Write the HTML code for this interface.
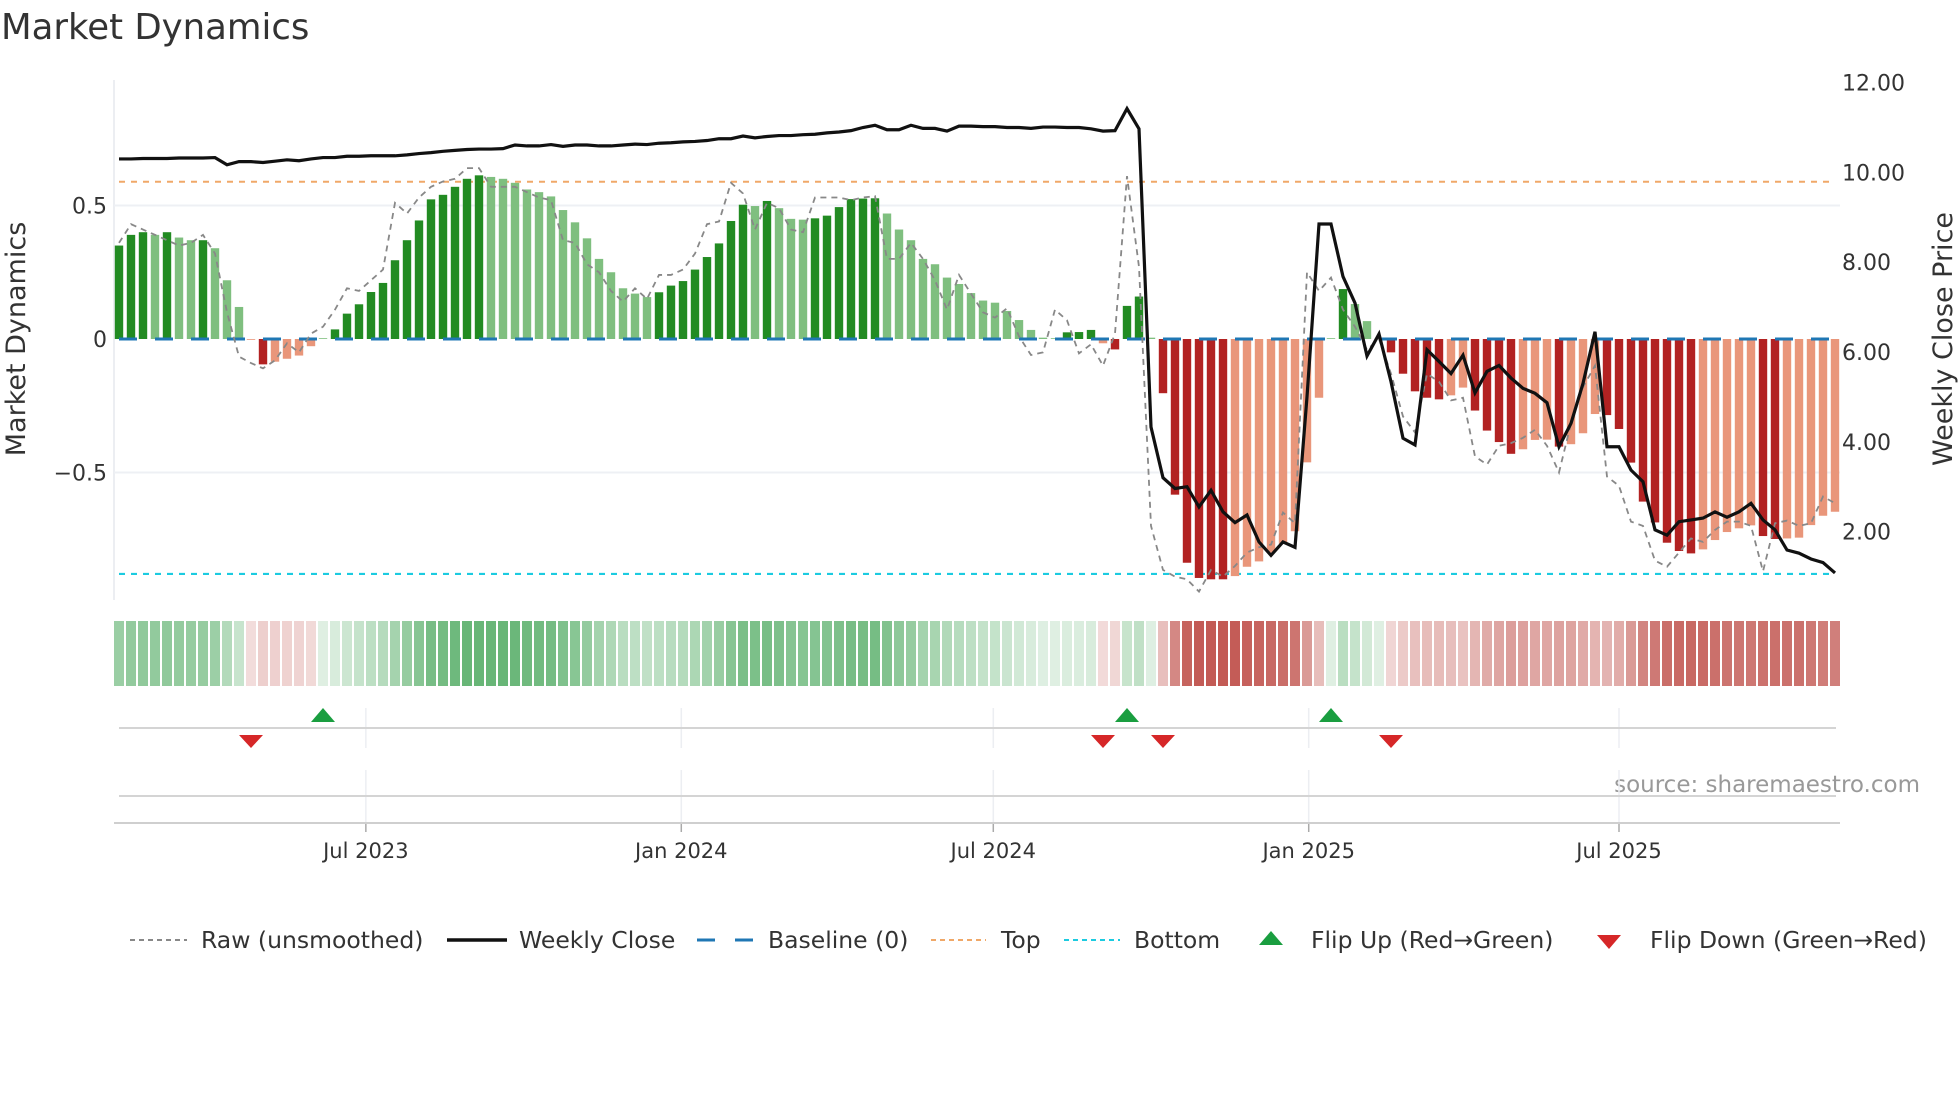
<!DOCTYPE html>
<html><head><meta charset="utf-8"><title>Market Dynamics</title>
<style>
html,body{margin:0;padding:0;background:#fff;}
svg{display:block;font-family:"DejaVu Sans","Liberation Sans",sans-serif;}
</style></head>
<body>
<svg id="chart" width="1960" height="1102" viewBox="0 0 1960 1102" xmlns="http://www.w3.org/2000/svg">
<text x="1" y="39" font-size="35.5" fill="#333">Market Dynamics</text>
<g id="main"></g>
<text transform="translate(25,339) rotate(-90)" text-anchor="middle" font-size="27" fill="#333">Market Dynamics</text>
<text transform="translate(1952,339) rotate(-90)" text-anchor="middle" font-size="27" fill="#333">Weekly Close Price</text>
<text x="1920" y="792" text-anchor="end" font-size="23" fill="#999">source: sharemaestro.com</text>
<g id="legend"></g>
</svg>
<script>
const momentum = [0.35,0.39,0.40,0.39,0.40,0.38,0.37,0.37,0.34,0.22,0.12,-0.003,-0.095,-0.085,-0.074,-0.062,-0.027,0.003,0.036,0.095,0.13,0.176,0.21,0.295,0.37,0.444,0.523,0.54,0.57,0.60,0.613,0.607,0.60,0.585,0.56,0.55,0.534,0.483,0.437,0.377,0.30,0.25,0.19,0.17,0.157,0.175,0.20,0.217,0.26,0.307,0.358,0.442,0.503,0.498,0.517,0.49,0.45,0.447,0.452,0.462,0.494,0.524,0.526,0.527,0.47,0.41,0.37,0.30,0.28,0.23,0.206,0.172,0.144,0.136,0.105,0.071,0.034,0.005,0.003,0.025,0.026,0.034,-0.016,-0.039,0.124,0.159,0.005,-0.203,-0.583,-0.838,-0.895,-0.90,-0.90,-0.888,-0.853,-0.833,-0.80,-0.767,-0.72,-0.462,-0.22,0.003,0.187,0.131,0.067,0.003,-0.05,-0.13,-0.196,-0.22,-0.226,-0.211,-0.182,-0.268,-0.343,-0.386,-0.43,-0.413,-0.378,-0.377,-0.403,-0.394,-0.353,-0.281,-0.285,-0.337,-0.463,-0.609,-0.687,-0.763,-0.794,-0.803,-0.788,-0.753,-0.723,-0.709,-0.698,-0.738,-0.749,-0.747,-0.744,-0.697,-0.662,-0.647];
const rawValues = [0.36,0.43,0.41,0.39,0.37,0.35,0.36,0.39,0.32,0.10,-0.066,-0.09,-0.11,-0.08,-0.016,-0.05,0.02,0.046,0.11,0.19,0.18,0.22,0.26,0.51,0.47,0.53,0.57,0.59,0.60,0.64,0.64,0.57,0.57,0.57,0.55,0.53,0.52,0.37,0.36,0.28,0.25,0.18,0.14,0.19,0.15,0.24,0.24,0.26,0.32,0.43,0.44,0.585,0.545,0.41,0.51,0.49,0.41,0.40,0.53,0.53,0.53,0.52,0.53,0.535,0.30,0.30,0.36,0.30,0.22,0.11,0.24,0.17,0.10,0.08,0.115,0.01,-0.06,-0.05,0.11,0.07,-0.054,-0.02,-0.10,0.02,0.61,0.27,-0.70,-0.865,-0.89,-0.90,-0.946,-0.865,-0.89,-0.85,-0.80,-0.78,-0.77,-0.65,-0.69,0.25,0.18,0.23,0.11,0.046,-0.04,0.0,-0.13,-0.29,-0.35,-0.13,-0.16,-0.23,-0.22,-0.44,-0.47,-0.40,-0.39,-0.37,-0.34,-0.40,-0.50,-0.316,-0.18,-0.10,-0.515,-0.55,-0.684,-0.70,-0.83,-0.853,-0.80,-0.747,-0.76,-0.715,-0.684,-0.684,-0.70,-0.87,-0.69,-0.68,-0.70,-0.69,-0.59,-0.615];
const closePrice = [10.30,10.30,10.31,10.31,10.31,10.32,10.32,10.32,10.33,10.17,10.24,10.24,10.22,10.25,10.28,10.26,10.30,10.33,10.33,10.36,10.36,10.37,10.37,10.37,10.39,10.42,10.44,10.47,10.49,10.51,10.52,10.52,10.53,10.61,10.59,10.59,10.62,10.58,10.61,10.61,10.59,10.59,10.61,10.63,10.62,10.65,10.66,10.68,10.69,10.71,10.75,10.75,10.81,10.77,10.80,10.82,10.82,10.84,10.85,10.88,10.90,10.93,11.00,11.05,10.95,10.95,11.05,10.98,10.98,10.92,11.03,11.03,11.02,11.02,11.00,11.00,10.98,11.01,11.01,11.00,11.00,10.97,10.92,10.93,11.42,10.97,4.33,3.2,2.96,3.0,2.55,2.92,2.44,2.2,2.37,1.77,1.47,1.77,1.65,5.0,8.85,8.85,7.68,7.09,5.91,6.40,5.34,4.08,3.93,6.05,5.79,5.52,5.93,5.09,5.57,5.70,5.42,5.19,5.08,4.87,3.89,4.41,5.30,6.45,3.89,3.89,3.37,3.11,2.04,1.92,2.22,2.26,2.30,2.44,2.32,2.44,2.63,2.26,2.04,1.59,1.52,1.39,1.31,1.08];
const leftTicks = [0.5, 0, -0.5];
const leftTickLabels = ["0.5", "0", "\u22120.5"];
const rightTicks = [2, 4, 6, 8, 10, 12];
const rightTickLabels = ["2.00", "4.00", "6.00", "8.00", "10.00", "12.00"];
const topLevel = 0.589;
const bottomLevel = -0.88;
const xTickDates = ["2023-07-01", "2024-01-01", "2024-07-01", "2025-01-01", "2025-07-01"];
const xTickLabels = ["Jul 2023", "Jan 2024", "Jul 2024", "Jan 2025", "Jul 2025"];
const startDate = "2023-02-07";

const NS = "http://www.w3.org/2000/svg";
const PX_WEEK = 12, X0 = 119;
function xIdx(i){ return X0 + i*PX_WEEK; }
function xDate(d){ return X0 + (new Date(d) - new Date(startDate))/(7*86400000)*PX_WEEK; }
function yL(v){ return 339 - v*267; }
function yR(p){ return 352 - (p-6)*44.9; }
function mk(tag, attrs, parent){
  const e = document.createElementNS(NS, tag);
  for (const k in attrs) e.setAttribute(k, attrs[k]);
  parent.appendChild(e); return e;
}
const main = document.getElementById('main');
const svg = document.getElementById('chart');
const n = momentum.length;
const xL = 114, xRt = 1840;

let sp = mk('line',{x1:xL,x2:xL,y1:80,y2:600,stroke:'#e6e8ee','stroke-width':1.5},main);
 
leftTicks.forEach((v,i)=>{
  if (v !== 0){
    const g = mk('line',{x1:xL,x2:xRt,y1:yL(v),y2:yL(v),stroke:'#eef0f4','stroke-width':2},main);
    
    
  }
  const t = mk('text',{x:107,y:yL(v)+8,'text-anchor':'end','font-size':22,fill:'#333'},main);
  t.textContent = leftTickLabels[i];
  
  
});
rightTicks.forEach((p,i)=>{
  const t = mk('text',{x:1842,y:yR(p)+8,'font-size':22,fill:'#333'},main);
  t.textContent = rightTickLabels[i];
  
  
});
let tl = mk('line',{x1:119,x2:1834,y1:yL(topLevel),y2:yL(topLevel),stroke:'#f0a868','stroke-width':2,'stroke-dasharray':'6 6'},main);
 
let bl = mk('line',{x1:119,x2:1834,y1:yL(bottomLevel),y2:yL(bottomLevel),stroke:'#1ccbe0','stroke-width':2.2,'stroke-dasharray':'6 6'},main);
 

const heat = mk('g',{},svg);
for (let i=0;i<n;i++){
  const v = momentum[i], prev = i>0 ? momentum[i-1] : 0;
  const strong = Math.abs(v) >= Math.abs(prev);
  const fill = v >= 0 ? (strong ? '#228b22' : '#7fbf7f') : (strong ? '#b22222' : '#e9967a');
  const y0 = yL(0), y1 = yL(v);
  const r = mk('rect',{x:xIdx(i)-4.2,y:Math.min(y0,y1),width:8.4,height:Math.max(0.5,Math.abs(y1-y0)),fill:fill},main);
  
  
  const t = v >= 0 ? Math.min(1, v/0.6) : Math.min(1, -v/0.9);
  const a = 0.2 + 0.75*t;
  const base = v >= 0 ? [96,178,112] : [192,82,76];
  const c = base.map(b => Math.round(255 + (b-255)*a));
  const h = mk('rect',{x:xIdx(i)-5,y:621,width:10,height:65,fill:`rgb(${c[0]},${c[1]},${c[2]})`},heat);
  
  
}
let base = mk('line',{x1:119,x2:1834,y1:yL(0),y2:yL(0),stroke:'#1f77b4','stroke-width':3,'stroke-dasharray':'18 18'},main);
 

let rawPts = rawValues.map((v,i)=>`${xIdx(i)},${yL(v)}`).join(' ');
let raw = mk('polyline',{points:rawPts,fill:'none',stroke:'#888','stroke-width':1.8,'stroke-dasharray':'6 5'},main);
 
let pPts = closePrice.map((p,i)=>`${xIdx(i)},${yR(p)}`).join(' ');
let pl = mk('polyline',{points:pPts,fill:'none',stroke:'#111','stroke-width':3.2,'stroke-linejoin':'miter'},main);
 

const ev = mk('g',{},svg);
xTickDates.forEach((d,i)=>{
  const x = xDate(d);
  const g1 = mk('line',{x1:x,x2:x,y1:708,y2:748,stroke:'#eceef2','stroke-width':1.5},ev);
  
  
  const g2 = mk('line',{x1:x,x2:x,y1:770,y2:823,stroke:'#eceef2','stroke-width':1.5},ev);
  
  
  const tk = mk('line',{x1:x,x2:x,y1:823,y2:832,stroke:'#aaa','stroke-width':1.5},ev);
  
  
  const t = mk('text',{x:x,y:858,'text-anchor':'middle','font-size':21,fill:'#333'},ev);
  t.textContent = xTickLabels[i];
  
  
});
let r1 = mk('line',{x1:119,x2:1836,y1:728,y2:728,stroke:'#d4d4d4','stroke-width':2},ev);
 
let r2 = mk('line',{x1:119,x2:1836,y1:796,y2:796,stroke:'#d4d4d4','stroke-width':2},ev);
 
let ax = mk('line',{x1:114,x2:1840,y1:823,y2:823,stroke:'#cfcfcf','stroke-width':2},ev);
 
for (let i=1;i<n;i++){
  const a = momentum[i-1], b = momentum[i], x = xIdx(i);
  if (a < 0 && b >= 0){
    const m = mk('polygon',{points:`${x-12},722 ${x+12},722 ${x},708`,fill:'#1a9e40'},ev);
    
    
  } else if (a >= 0 && b < 0){
    const m = mk('polygon',{points:`${x-12},735 ${x+12},735 ${x},748`,fill:'#d62728'},ev);
    
    
  }
}

const lg = document.getElementById('legend');
function ltext(x, s, name){
  const t = mk('text',{x:x,y:948,'font-size':23.5,fill:'#333'},lg);
  t.textContent = s;
  
  
}
function lline(x1,x2,attrs,name){
  const l = mk('line',Object.assign({x1:x1,x2:x2,y1:940,y2:940},attrs),lg);
  
  
}
lline(130,187,{stroke:'#888','stroke-width':2,'stroke-dasharray':'5 4'},'legend-raw-swatch');
ltext(201,'Raw (unsmoothed)','legend-raw-label');
lline(447,507,{stroke:'#111','stroke-width':3.5},'legend-close-swatch');
ltext(519,'Weekly Close','legend-close-label');
lline(697,754,{stroke:'#1f77b4','stroke-width':3,'stroke-dasharray':'18 20'},'legend-baseline-swatch');
ltext(768,'Baseline (0)','legend-baseline-label');
lline(931,986,{stroke:'#f0a868','stroke-width':2,'stroke-dasharray':'5 4'},'legend-top-swatch');
ltext(1001,'Top','legend-top-label');
lline(1064,1120,{stroke:'#1ccbe0','stroke-width':2,'stroke-dasharray':'5 4'},'legend-bottom-swatch');
ltext(1134,'Bottom','legend-bottom-label');
let lu = mk('polygon',{points:'1259,945 1283,945 1271,931',fill:'#1a9e40'},lg);
 
ltext(1311,'Flip Up (Red\u2192Green)','legend-flip-up-label');
let ld = mk('polygon',{points:'1597,935 1621,935 1609,949',fill:'#d62728'},lg);
 
ltext(1650,'Flip Down (Green\u2192Red)','legend-flip-down-label');
</script>
</body></html>
